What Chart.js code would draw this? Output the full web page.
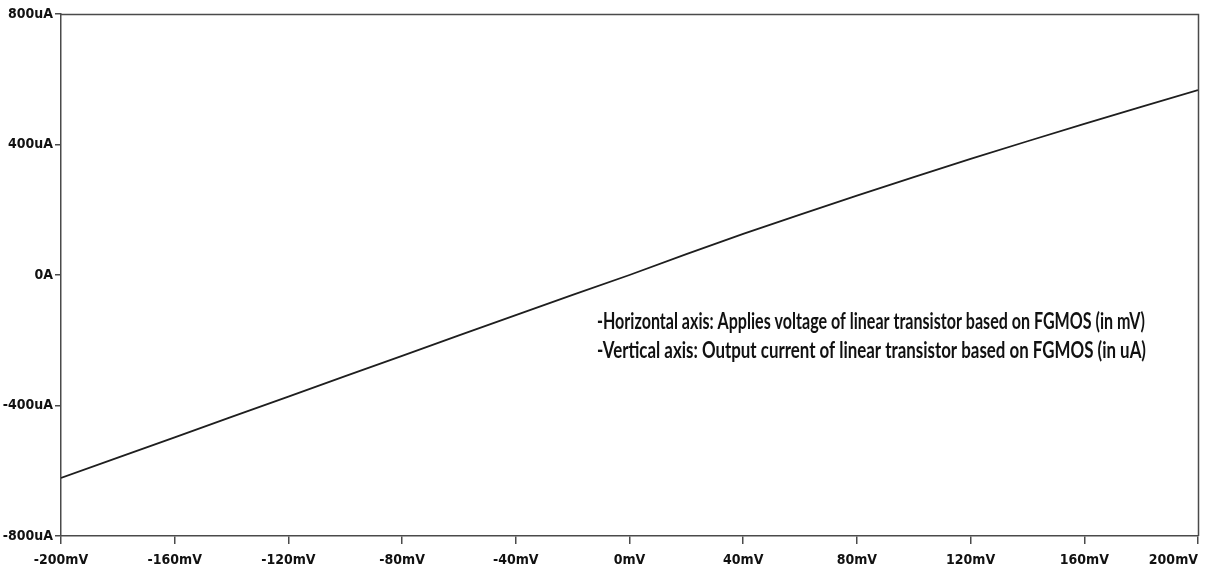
<!DOCTYPE html>
<html>
<head>
<meta charset="utf-8">
<title>FGMOS linear transistor</title>
<script src="https://cdn.jsdelivr.net/npm/chart.js@4.4.1/dist/chart.umd.min.js"></script>
<style>
  html, body { margin: 0; padding: 0; background: #ffffff; }
  #wrap { width: 1211px; height: 574px; position: relative; }
  canvas { display: block; }
</style>
</head>
<body>
<div id="wrap"><canvas id="iv" width="1211" height="574"></canvas></div>
<script>
// Applied voltage sweep (mV) and the resulting output current (uA)
const voltageMV = [-200, -180, -160, -140, -120, -100, -80, -60, -40, -20, 0,
                   20, 40, 60, 80, 100, 120, 140, 160, 180, 200];
const currentUA = [-622, -560, -498, -435, -373, -310, -248, -185, -123, -61, 0,
                   64, 126, 185, 243, 300, 356, 410, 463, 515, 567];

// Axis ticks
const xTickValues = [-200, -160, -120, -80, -40, 0, 40, 80, 120, 160, 200];
const xTickLabels = ['-200mV', '-160mV', '-120mV', '-80mV', '-40mV', '0mV',
                     '40mV', '80mV', '120mV', '160mV', '200mV'];
const yTickValues = [-800, -400, 0, 400, 800];
const yTickLabels = ['-800uA', '-400uA', '0A', '400uA', '800uA'];

// Caption lines
const noteLines = [
  '-Horizontal axis: Applies voltage of linear transistor based on FGMOS (in mV)',
  '-Vertical axis: Output current of linear transistor based on FGMOS (in uA)'
];

const axisColor = '#4a4a4a';
const tickFont = { family: '"Liberation Sans Narrow", "DejaVu Sans Condensed", sans-serif', size: 14, weight: 'bold' };

// Closes the plot frame (top and right edges) and writes the caption
const framePlugin = {
  id: 'frame',
  beforeDraw(chart) {
    // keep the last x label inside the canvas by right-aligning it on its tick
    const items = chart.scales.x.getLabelItems();
    if (items.length) items[items.length - 1].options.textAlign = 'right';
  },
  afterDraw(chart) {
    const { ctx, chartArea: a } = chart;
    ctx.save();
    ctx.strokeStyle = axisColor;
    ctx.lineWidth = 1.5;
    ctx.beginPath();
    ctx.moveTo(a.left, a.top + 0.5);
    ctx.lineTo(a.right + 0.5, a.top + 0.5);
    ctx.lineTo(a.right + 0.5, a.bottom);
    ctx.stroke();

    ctx.fillStyle = '#111111';
    ctx.font = 'bold 22px Lato, "Open Sans", sans-serif';
    ctx.textAlign = 'left';
    ctx.textBaseline = 'alphabetic';
    ctx.fillText(noteLines[0], 597, 329, 548);
    ctx.fillText(noteLines[1], 597, 358, 549);
    ctx.restore();
  }
};

new Chart(document.getElementById('iv'), {
  type: 'line',
  data: {
    datasets: [{
      data: voltageMV.map((v, i) => ({ x: v, y: currentUA[i] })),
      borderColor: '#1e1e1e',
      borderWidth: 1.8,
      pointRadius: 0,
      fill: false,
      tension: 0
    }]
  },
  options: {
    responsive: false,
    animation: false,
    devicePixelRatio: 1,
    layout: { padding: { top: 14, right: 13, left: 0, bottom: 0 } },
    plugins: { legend: { display: false }, tooltip: { enabled: false } },
    scales: {
      x: {
        type: 'linear',
        min: -200,
        max: 200,
        afterBuildTicks(scale) { scale.ticks = xTickValues.map(v => ({ value: v })); },
        afterFit(scale) { scale.height = 38; scale.paddingLeft = 0; scale.paddingRight = 0; },
        grid: { drawOnChartArea: false, drawTicks: true, tickLength: 8, color: axisColor, lineWidth: 1.5 },
        border: { display: true, color: axisColor, width: 1.5 },
        ticks: {
          autoSkip: false,
          maxRotation: 0,
          padding: 8,
          color: '#111111',
          font: tickFont,
          callback: (value, index) => xTickLabels[index]
        }
      },
      y: {
        type: 'linear',
        min: -800,
        max: 800,
        afterBuildTicks(scale) { scale.ticks = yTickValues.map(v => ({ value: v })); },
        afterFit(scale) { scale.width = 61; scale.paddingTop = 0; scale.paddingBottom = 0; },
        grid: { drawOnChartArea: false, drawTicks: true, tickLength: 6, color: axisColor, lineWidth: 1.5 },
        border: { display: true, color: axisColor, width: 1.5 },
        ticks: {
          autoSkip: false,
          padding: 2,
          color: '#111111',
          font: tickFont,
          callback: (value, index) => yTickLabels[index]
        }
      }
    }
  },
  plugins: [framePlugin]
});
</script>
</body>
</html>
